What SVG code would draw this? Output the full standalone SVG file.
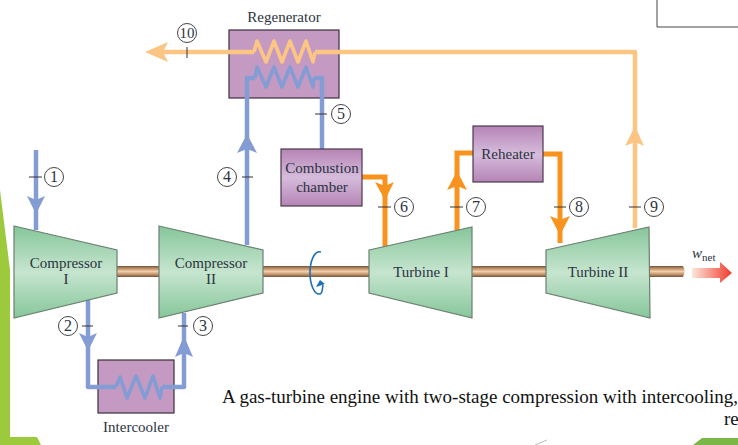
<svg xmlns="http://www.w3.org/2000/svg" width="738" height="445" viewBox="0 0 738 445">
<style>
text{font-family:"Liberation Serif","Times New Roman",serif;fill:#2b3340}
.lb{font-size:15px;text-anchor:middle}
.n{font-size:16px;text-anchor:middle}
.c{fill:#fff;stroke:#444;stroke-width:1}
.t{stroke:#333;stroke-width:1;fill:none}
.m{fill:url(#g);stroke:#6b7f72;stroke-width:1.2}
.p{fill:url(#pu);stroke:#4a3a4a;stroke-width:1.2}
.pf{fill:#c49ac2;stroke:#3c2f3c;stroke-width:1.2}
.bl{fill:none;stroke:#849cd4;stroke-width:4.5;stroke-linejoin:round}
.or{fill:none;stroke:#f7931e;stroke-width:5}
.lo{fill:none;stroke:#fdc583;stroke-width:4.5;stroke-linejoin:round}
.z{stroke-width:3.6}
.cap{font-size:19px;fill:#111}
</style>
<defs>
<linearGradient id="g" x1="0" y1="0" x2="0" y2="1"><stop offset="0" stop-color="#86c69a"/><stop offset=".5" stop-color="#c6e5cf"/><stop offset="1" stop-color="#86c69a"/></linearGradient>
<linearGradient id="pu" x1="0" y1="0" x2="0" y2="1"><stop offset="0" stop-color="#b584b5"/><stop offset=".5" stop-color="#d6bcdc"/><stop offset="1" stop-color="#b584b5"/></linearGradient>
<linearGradient id="sh" x1="0" y1="0" x2="0" y2="1"><stop offset="0" stop-color="#6f5240"/><stop offset=".2" stop-color="#b98a62"/><stop offset=".5" stop-color="#f2cfa8"/><stop offset=".8" stop-color="#b98a62"/><stop offset="1" stop-color="#6f5240"/></linearGradient>
<linearGradient id="rd"><stop offset="0" stop-color="#fde6dc"/><stop offset="1" stop-color="#ee3b2b"/></linearGradient>
</defs>

<g id="background">
<polygon points="0,190 10,270 10,437 37,437 41,445 0,445" fill="#9dc93c"/>
<polygon points="693,445 702,438 738,438 738,445" fill="#7ab648"/>
<path d="M535,445L547,440" stroke="#bbb" fill="none"/>
<path d="M738,27H657V0" stroke="#444" stroke-width="1" fill="none"/>
</g>

<g id="shaft">
<rect x="117" y="266" width="42" height="11" fill="url(#sh)"/>
<rect x="263" y="266" width="106" height="11" fill="url(#sh)"/>
<rect x="472" y="266" width="74" height="11" fill="url(#sh)"/>
<path d="M650,266H683Q686,271 683,277H650Z" fill="url(#sh)"/>
</g>

<g id="regenerator"><rect class="pf" x="229" y="30" width="110" height="68"/><text class="lb" x="284" y="22">Regenerator</text></g>
<g id="intercooler"><rect class="pf" x="98" y="360" width="76" height="53"/><text class="lb" x="136" y="432">Intercooler</text></g>

<g id="connectors">
<path class="bl" d="M36,150V230"/>
<path class="bl" d="M88,298V387H116M162,387H184V313"/>
<path class="bl z" d="M116,387L120,377L127,398L136,376L145,398L153,376L160,398L162,387"/>
<path class="bl" d="M247,245V78H255M314,78H322V150"/>
<path class="bl z" d="M255,78L257,67L266,87L274,67L282,87L290,67L298,87L306,67L313,87L314,78"/>
<path class="or" d="M362,177H385V248"/>
<path class="or" d="M457,230V153H473"/>
<path class="or" d="M543,154H560V243"/>
<path class="lo" d="M635,228V52H315M254,52H155"/>
<path class="lo z" d="M315,52L313,62L306,41L298,62L290,41L282,62L274,41L266,62L257,41L254,52"/>
<g fill="#849cd4">
<polygon points="36,214 27,196 36,200 45,196"/>
<polygon points="88,351 79,333 88,337 97,333"/>
<polygon points="184,336 175,357 184,353 193,357"/>
<polygon points="247,134 237,153 247,149 257,153"/>
</g>
<g fill="#f7931e">
<polygon points="385,200 375,182 385,186 394,182"/>
<polygon points="457,171 447,190 457,186 467,190"/>
<polygon points="560,235 550,216 560,220 570,216"/>
</g>
<g fill="#fdc583">
<polygon points="635,126 625,146 635,142 644,146"/>
<polygon points="145,52 168,42 163,52 168,62"/>
</g>
<path d="M29,177H42M82,326H93M178,326H188M242,177H253M315,114H327M378,207H391M450,207H463M554,207H566M629,207H641" class="t"/>
<path d="M187,47V58" class="t"/>
</g>

<g id="compressor-1"><polygon class="m" points="14,226 117,250 117,293 14,318"/><text class="lb" x="66" y="268">Compressor</text><text class="lb" x="66" y="284">I</text></g>
<g id="compressor-2"><polygon class="m" points="159,226 263,250 263,293 159,318"/><text class="lb" x="211" y="268">Compressor</text><text class="lb" x="211" y="284">II</text></g>
<g id="turbine-1"><polygon class="m" points="369,250 472,227 472,318 369,293"/><text class="lb" x="421" y="277">Turbine I</text></g>
<g id="turbine-2"><polygon class="m" points="546,250 649,227 650,318 546,293"/><text class="lb" x="598" y="277">Turbine II</text></g>

<g id="combustion-chamber"><rect class="p" x="281" y="149" width="81" height="57"/><text class="lb" x="322" y="173">Combustion</text><text class="lb" x="322" y="192">chamber</text></g>
<g id="reheater"><rect class="p" x="473" y="126" width="70" height="56"/><text class="lb" x="508" y="159">Reheater</text></g>

<g id="rotation"><path d="M321,252C314,250 310,262 310,273C310,284 314,295 320,294C323,293 322,289 323,285" fill="none" stroke="#1f6fb5" stroke-width="1.6"/><polygon points="320,280 325,284 316,287" fill="#1f6fb5"/></g>

<g id="state-labels">
<circle class="c" cx="54" cy="177" r="9.5"/><text class="n" x="54" y="182">1</text>
<circle class="c" cx="68" cy="326" r="9.5"/><text class="n" x="68" y="331">2</text>
<circle class="c" cx="203" cy="326" r="9.5"/><text class="n" x="203" y="331">3</text>
<circle class="c" cx="227" cy="177" r="9.5"/><text class="n" x="227" y="182">4</text>
<circle class="c" cx="341" cy="114" r="9.5"/><text class="n" x="341" y="119">5</text>
<circle class="c" cx="404" cy="207" r="9.5"/><text class="n" x="404" y="212">6</text>
<circle class="c" cx="476" cy="207" r="9.5"/><text class="n" x="476" y="212">7</text>
<circle class="c" cx="579" cy="207" r="9.5"/><text class="n" x="579" y="212">8</text>
<circle class="c" cx="654" cy="207" r="9.5"/><text class="n" x="654" y="212">9</text>
<circle class="c" cx="187" cy="33" r="9.5"/><text class="n" x="187" y="38" style="font-size:15px">10</text>
</g>

<g id="wnet"><polygon points="692,268 720,268 720,262 732,273 720,283 720,278 692,278" fill="url(#rd)"/><text x="692" y="258" font-size="15" font-style="italic">w<tspan font-size="11" font-style="normal" dy="3">net</tspan></text></g>

<text class="cap" x="222" y="403">A gas-turbine engine with two-stage compression with intercooling,</text>
<text class="cap" x="724" y="425">re</text>
</svg>
